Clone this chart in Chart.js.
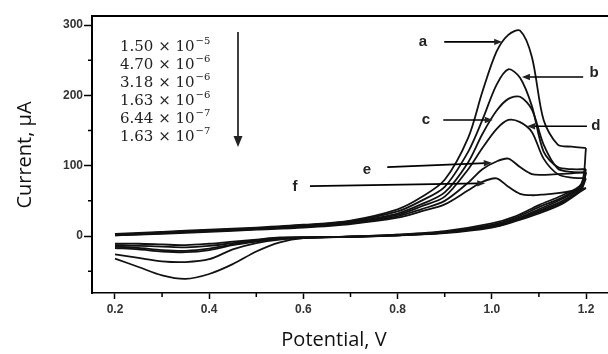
<!DOCTYPE html>
<html>
<head>
<meta charset="utf-8">
<script src="https://cdn.jsdelivr.net/npm/chart.js@4.4.1/dist/chart.umd.min.js"></script>
<style>
    html, body { margin: 0; padding: 0; background: #fff; }
    #wrap { width: 608px; height: 354px; }
</style>
</head>
<body>
<div id="wrap"><canvas id="cvChart"></canvas></div>
<script>
// potential grid (V) for the anodic (forward) and cathodic (reverse) sweeps
const forwardPotential = [0.2, 0.3, 0.4, 0.5, 0.6, 0.7, 0.8, 0.85, 0.9, 0.95, 0.98, 1.01, 1.035, 1.06, 1.085, 1.11, 1.14, 1.17, 1.2];
const reversePotential = [1.2, 1.19, 1.15, 1.1, 1.05, 1.0, 0.9, 0.8, 0.7, 0.6, 0.55, 0.5, 0.45, 0.4, 0.35, 0.3, 0.25, 0.2];

// current (uA), curves a..f
const aForward = [3, 6, 9, 12, 16, 22, 38, 55, 80, 140, 205, 262, 286, 292, 255, 165, 130, 127, 125];
const bForward = [2, 5, 8, 11, 15, 21, 35, 50, 70, 120, 165, 215, 237, 225, 185, 120, 98, 95, 95];
const cForward = [2, 5, 8, 11, 14, 20, 32, 45, 62, 105, 145, 178, 195, 198, 180, 130, 96, 91, 90];
const dForward = [2, 4, 7, 10, 13, 19, 30, 42, 56, 95, 125, 152, 165, 162, 148, 110, 88, 83, 82];
const eForward = [1, 4, 7, 10, 13, 18, 28, 38, 50, 76, 95, 106, 110, 98, 88, 87, 88, 89, 91];
const fForward = [1, 3, 6, 9, 12, 17, 26, 35, 45, 65, 77, 82, 70, 60, 58, 59, 61, 64, 68];

const aReverse = [125, 74, 58, 44, 28, 18, 7, 2, -1, -3, -9, -22, -40, -54, -61, -56, -44, -32];
const bReverse = [95, 72, 55, 41, 26, 16, 6, 2, -1, -3, -5, -10, -19, -33, -37, -36, -31, -26];
const cReverse = [90, 70, 53, 38, 24, 15, 6, 1, -1, -2, -4, -8, -13, -20, -23, -22, -19, -17];
const dReverse = [82, 68, 50, 36, 23, 14, 5, 1, -1, -2, -3, -7, -12, -18, -21, -20, -17, -15];
const eReverse = [91, 66, 48, 34, 22, 13, 5, 1, -1, -2, -3, -6, -10, -14, -16, -15, -14, -13];
const fReverse = [68, 64, 46, 32, 21, 12, 4, 1, -1, -2, -2, -5, -8, -11, -13, -12, -11, -11];

// concentrations listed in the top-left corner
const concMantissa = ["1.50", "4.70", "3.18", "1.63", "6.44", "1.63"];
const concExponent = ["\u22125", "\u22126", "\u22126", "\u22126", "\u22127", "\u22127"];

// ticks
const xMajorTicks = [0.2, 0.4, 0.6, 0.8, 1.0, 1.2];
const xMinorTicks = [0.3, 0.5, 0.7, 0.9, 1.1];
const yMajorTicks = [0, 100, 200, 300];
const yMinorTicks = [-50, 50, 150, 250];

// curve labels: text point and arrow (tail -> head), in data units
const curveLabels = [
    { text: "a", at: [0.854, 276], from: [0.899, 276], to: [1.022, 276] },
    { text: "b", at: [1.217, 232], from: [1.194, 226], to: [1.064, 226] },
    { text: "c", at: [0.860, 165], from: [0.897, 165], to: [1.002, 165] },
    { text: "d", at: [1.221, 157], from: [1.202, 156], to: [1.075, 156] },
    { text: "e", at: [0.735, 94], from: [0.778, 98], to: [1.000, 104] },
    { text: "f", at: [0.582, 70], from: [0.614, 71], to: [0.986, 75] },
];

const curves = [
    [aForward, aReverse],
    [bForward, bReverse],
    [cForward, cReverse],
    [dForward, dReverse],
    [eForward, eReverse],
    [fForward, fReverse],
];

const datasets = [];
curves.forEach(([fwd, rev]) => {
    [[forwardPotential, fwd], [reversePotential, rev]].forEach(([xs, ys]) => {
        datasets.push({
            data: xs.map((v, i) => ({ x: v, y: ys[i] })),
            showLine: true,
            borderColor: "#111",
            borderWidth: 1.8,
            pointRadius: 0,
            tension: 0.3,
            fill: false,
        });
    });
});

function arrow(ctx, x1, y1, x2, y2, len, half) {
    const ang = Math.atan2(y2 - y1, x2 - x1);
    ctx.beginPath();
    ctx.moveTo(x1, y1);
    ctx.lineTo(x2 - Math.cos(ang) * len * 0.8, y2 - Math.sin(ang) * len * 0.8);
    ctx.stroke();
    ctx.beginPath();
    ctx.moveTo(x2, y2);
    ctx.lineTo(x2 - Math.cos(ang) * len - Math.sin(ang) * half, y2 - Math.sin(ang) * len + Math.cos(ang) * half);
    ctx.lineTo(x2 - Math.cos(ang) * len + Math.sin(ang) * half, y2 - Math.sin(ang) * len - Math.cos(ang) * half);
    ctx.closePath();
    ctx.fill();
}

const decorations = {
    id: "decorations",
    afterDraw(chart) {
        const { ctx, chartArea: area, scales: { x, y } } = chart;
        ctx.save();
        ctx.strokeStyle = "#000";
        ctx.fillStyle = "#000";

        // top frame line
        ctx.lineWidth = 2;
        ctx.beginPath();
        ctx.moveTo(area.left - 1, area.top);
        ctx.lineTo(area.right, area.top);
        ctx.stroke();

        // minor ticks
        ctx.lineWidth = 1.5;
        ctx.beginPath();
        xMinorTicks.forEach((v) => {
            const px = x.getPixelForValue(v);
            ctx.moveTo(px, area.bottom);
            ctx.lineTo(px, area.bottom + 4);
        });
        yMinorTicks.forEach((v) => {
            const py = y.getPixelForValue(v);
            ctx.moveTo(area.left, py);
            ctx.lineTo(area.left - 4, py);
        });
        ctx.stroke();

        // concentration list
        ctx.fillStyle = "#222";
        ctx.textBaseline = "alphabetic";
        ctx.textAlign = "left";
        concMantissa.forEach((m, i) => {
            const left = area.left + 28;
            const base = area.top + 35 + i * 18;
            ctx.font = "15px 'DejaVu Serif'";
            const main = m + " \u00d7 10";
            ctx.fillText(main, left, base);
            const w = ctx.measureText(main).width;
            ctx.font = "10px 'DejaVu Serif'";
            ctx.fillText(concExponent[i], left + w + 1, base - 7);
        });

        // downward arrow beside the list
        ctx.lineWidth = 1.5;
        arrow(ctx, area.left + 146, area.top + 16, area.left + 146, area.top + 131, 11, 4.5);

        // curve labels
        ctx.font = "bold 15px 'Liberation Sans'";
        ctx.textAlign = "center";
        ctx.textBaseline = "middle";
        ctx.lineWidth = 1.6;
        curveLabels.forEach((lab) => {
            ctx.fillText(lab.text, x.getPixelForValue(lab.at[0]), y.getPixelForValue(lab.at[1]));
            arrow(ctx,
                x.getPixelForValue(lab.from[0]), y.getPixelForValue(lab.from[1]),
                x.getPixelForValue(lab.to[0]), y.getPixelForValue(lab.to[1]), 8, 3.2);
        });

        // axis titles
        ctx.fillStyle = "#111";
        ctx.font = "20px 'Open Sans'";
        ctx.fillText("Potential, V", 334, 340);
        ctx.translate(25, 155);
        ctx.rotate(-Math.PI / 2);
        ctx.fillText("Current, \u03bcA", 0, 0);
        ctx.restore();
    },
};

const tickFont = { family: "'Liberation Sans', Arial, sans-serif", size: 12, weight: "bold" };

new Chart(document.getElementById("cvChart"), {
    type: "scatter",
    data: { datasets },
    options: {
        responsive: true,
        maintainAspectRatio: false,
        animation: false,
        layout: { padding: { top: 16, right: 0, left: 0, bottom: 0 } },
        plugins: { legend: { display: false }, tooltip: { enabled: false } },
        scales: {
            x: {
                type: "linear",
                min: 0.1512,
                max: 1.2467,
                afterBuildTicks(scale) {
                    scale.ticks = xMajorTicks.map((v) => ({ value: v }));
                },
                afterFit(scale) {
                    scale.height = 61;
                },
                ticks: {
                    color: "#333",
                    font: tickFont,
                    padding: 3,
                    callback: (v) => Number(v).toFixed(1),
                },
                grid: { drawOnChartArea: false, drawTicks: true, tickLength: 6, tickColor: "#000", tickWidth: 1.5 },
                border: { color: "#000", width: 1.5 },
            },
            y: {
                type: "linear",
                min: -81,
                max: 312.8,
                afterBuildTicks(scale) {
                    scale.ticks = yMajorTicks.map((v) => ({ value: v }));
                },
                afterFit(scale) {
                    scale.width = 92;
                },
                ticks: {
                    color: "#333",
                    font: tickFont,
                    padding: 1,
                    callback: (v) => String(v),
                },
                grid: { drawOnChartArea: false, drawTicks: true, tickLength: 8, tickColor: "#000", tickWidth: 1.5 },
                border: { color: "#000", width: 2 },
            },
        },
    },
    plugins: [decorations],
});
</script>
</body>
</html>
